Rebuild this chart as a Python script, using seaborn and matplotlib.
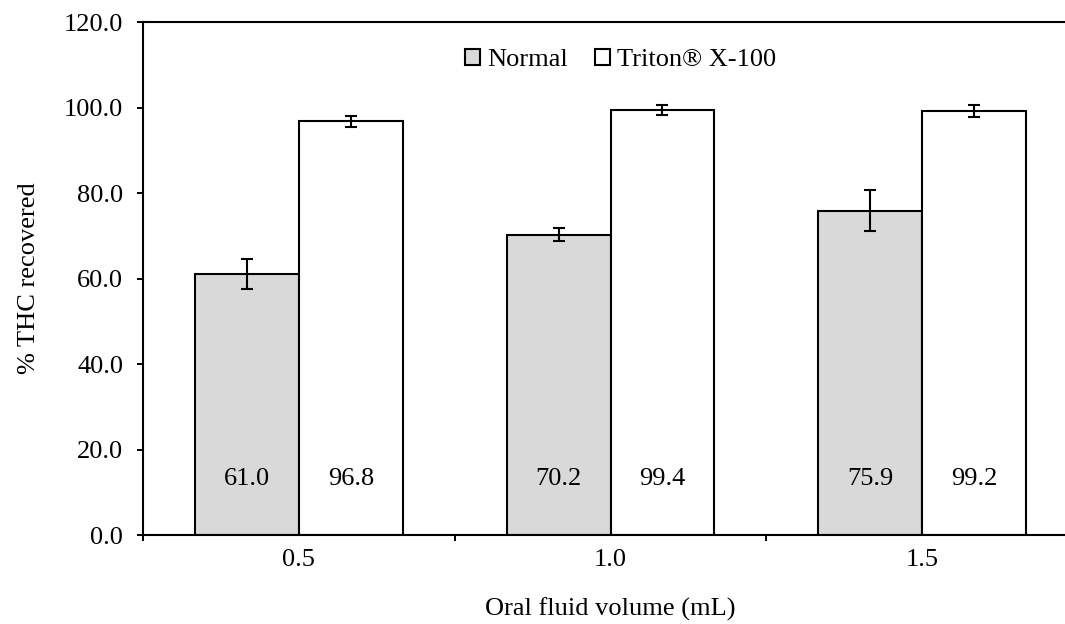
import matplotlib
matplotlib.use("Agg")
import matplotlib.pyplot as plt
import seaborn as sns
import pandas as pd
from matplotlib.patches import Patch

# ---- data ----
volumes = ["0.5", "1.0", "1.5"]
series = ["Normal", "Triton® X-100"]
normal_vals = [61.0, 70.2, 75.9]
triton_vals = [96.8, 99.4, 99.2]
normal_err = [3.5, 1.5, 4.7]
triton_err = [1.3, 1.2, 1.4]
y_ticks = [0, 20, 40, 60, 80, 100, 120]
colors = ["#d9d9d9", "#ffffff"]

df = pd.DataFrame({
    "volume": volumes * 2,
    "series": [series[0]] * len(volumes) + [series[1]] * len(volumes),
    "value": normal_vals + triton_vals,
})

sns.set_style("white")
plt.rcParams["font.family"] = ["Liberation Serif", "DejaVu Serif"]
plt.rcParams["font.size"] = 19
for k in ["text.color", "axes.labelcolor", "xtick.color", "ytick.color",
          "xtick.labelcolor", "ytick.labelcolor"]:
    plt.rcParams[k] = "black"

FS = 19

fig = plt.figure(figsize=(10.65, 6.24), dpi=100)
ax = fig.add_axes([143 / 1065, 89 / 624, 935 / 1065, 513 / 624])

sns.barplot(data=df, x="volume", y="value", hue="series", hue_order=series,
            palette=colors, saturation=1, edgecolor="black", linewidth=1.5,
            width=0.667, gap=0, errorbar=None, legend=False, ax=ax)

for cont, vals, errs in zip(ax.containers, [normal_vals, triton_vals],
                            [normal_err, triton_err]):
    xs = [p.get_x() + p.get_width() / 2 for p in cont]
    ax.errorbar(xs, vals, yerr=errs, fmt="none", ecolor="black",
                elinewidth=1.5, capsize=4.3, capthick=1.5, zorder=5)
    for x, v in zip(xs, vals):
        ax.text(x, 13, f"{v:.1f}", ha="center", va="center", fontsize=FS,
                color="black")

ax.set_ylim(0, 120)
ax.set_yticks(y_ticks)
ax.set_yticklabels([f"{t:.1f}" for t in y_ticks])
ax.set_xlim(-0.5, 2.5)
ax.set_xticks([-0.5, 0.5, 1.5, 2.5])
ax.set_xticklabels([])
ax.set_xticks([0, 1, 2], minor=True)
ax.set_xticklabels(volumes, minor=True)

ax.tick_params(axis="y", direction="out", length=4.3, width=1.4, pad=10,
               labelsize=FS, left=True)
ax.tick_params(axis="x", which="major", direction="out", length=4.3,
               width=1.4, bottom=True)
ax.tick_params(axis="x", which="minor", length=0, pad=10, labelsize=FS)

for s in ["left", "bottom", "top"]:
    ax.spines[s].set_visible(True)
    ax.spines[s].set_linewidth(1.5)
    ax.spines[s].set_color("black")
ax.spines["right"].set_visible(False)

ax.set_xlabel("Oral fluid volume (mL)", fontsize=FS, labelpad=19)
ax.set_ylabel("% THC recovered", fontsize=FS, labelpad=17)

handles = [Patch(facecolor=c, edgecolor="black", linewidth=1.5) for c in colors]
ax.legend(handles, series, loc="center", bbox_to_anchor=(0.511, 0.926),
          ncol=2, frameon=False, fontsize=FS, handlelength=0.56,
          handleheight=0.56, handletextpad=0.3, columnspacing=1.0)

fig.savefig("out.png", dpi=100)
